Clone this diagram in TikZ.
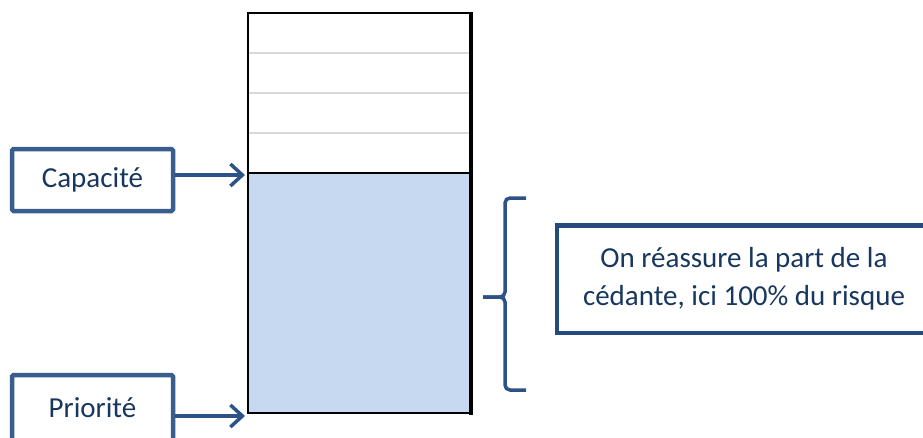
\documentclass[tikz,border=0pt]{standalone}
\usepackage{fontspec}
\setmainfont{Carlito}
\usetikzlibrary{arrows.meta}
\definecolor{boxblue}{HTML}{395E8E}
\definecolor{noteblue}{HTML}{244A7E}
\definecolor{textblue}{HTML}{17375E}
\definecolor{arrowblue}{HTML}{2C5287}
\definecolor{layerfill}{HTML}{C6D9F1}
\definecolor{layergray}{HTML}{D9D9D9}
\begin{document}
\begin{tikzpicture}[x=1pt, y=-1pt,
  labelbox/.style={draw=boxblue, line width=4.5pt, rounded corners=1.5pt, minimum width=161pt,
    text=textblue, font=\fontsize{29}{38}\selectfont, inner sep=0pt},
  fleche/.style={line width=3.5pt, arrowblue, -{Straight Barb[length=12pt, width=22pt, line width=3.5pt]}}]
\useasboundingbox (0,0) rectangle (923,437);

% la tranche
\fill[layerfill] (248,173) rectangle (471,413);
\foreach \y in {53,93,133}
  \draw[layergray, line width=1.8pt] (249,\y) to (473,\y);
\draw[line width=2pt] (471,13) to (248,13) to (248,413) to (471,413);
\draw[line width=4pt] (471,12) to (471,415);
\draw[line width=2pt] (248,173) to (471,173);

% capacite et priorite
\node[labelbox, minimum height=62pt] (capa) at (92.5,180) {Capacité};
\coordinate (capaline) at (245,175);
\draw[fleche] (capa.east |- capaline) to (capaline);

\node[labelbox, minimum height=66pt] (prio) at (92.5,408) {Priorité};
\coordinate (prioline) at (245,416);
\draw[fleche] (prio.east |- prioline) to (prioline);

% accolade
\draw[line width=3.5pt, arrowblue, rounded corners=5pt] (526,198) to (505,198) to (505,297) to (483,297);
\draw[line width=3.5pt, arrowblue, rounded corners=5pt] (483,297) to (505,297) to (505,390) to (526,390);

\node[draw=noteblue, line width=4.5pt, minimum width=374pt, minimum height=107.5pt, inner sep=0pt,
  text=textblue, font=\fontsize{29}{38}\selectfont, align=center] (note) at (744,279)
  {On réassure la part de la\\cédante, ici 100\% du risque};

\end{tikzpicture}
\end{document}
